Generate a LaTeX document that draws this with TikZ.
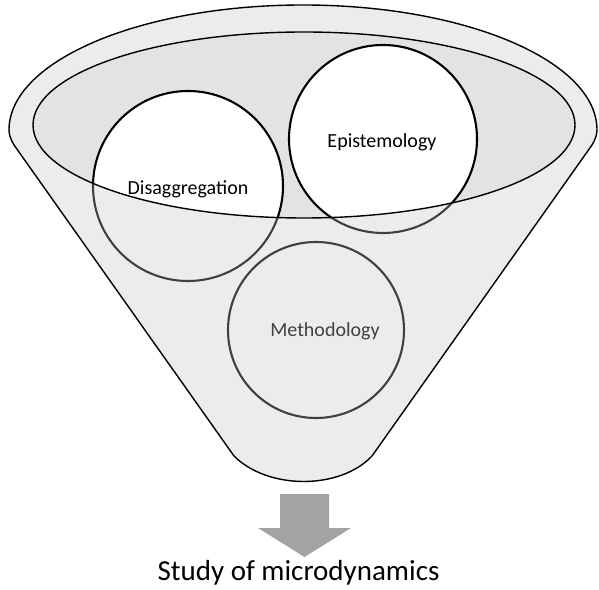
\documentclass[tikz,border=0pt]{standalone}
\usepackage{fontspec}
\setmainfont{Carlito}

\definecolor{rimgray}{HTML}{ECECEC}
\definecolor{bowlgray}{HTML}{E3E3E3}
\definecolor{arrowgray}{HTML}{A3A3A3}
\definecolor{ringgray}{HTML}{404040}
\definecolor{inkgray}{HTML}{404040}

\begin{document}
\begin{tikzpicture}
[x=1pt, y=1pt, every node/.style={inner sep=0pt},
 outline/.style={line width=1.4pt, draw=black},
 ring/.style={line width=2.1pt},
 label/.style={font=\fontsize{20}{24}\selectfont}]
\useasboundingbox (0,0) rectangle (599,589);
\coordinate (dis) at (188,403);
\coordinate (epi) at (383,450);
\coordinate (met) at (316,259);
\coordinate (bowl) at (304,464);
% funnel
\draw [outline, fill=rimgray] (14,444) .. controls (11,449) and (9,454) .. (9,459)
  arc [start angle=180, end angle=0, x radius=294pt, y radius=125pt]
  .. controls (597,454) and (595,449) .. (592,444) -- (372,133)
  .. controls (340,99) and (268,99) .. (234,133) -- cycle;
% circles, lower parts
\draw [ring, draw=ringgray, fill=rimgray] (dis) circle [radius=95pt];
\draw [ring, draw=ringgray, fill=rimgray] (epi) circle [radius=94pt];
\draw [ring, draw=ringgray] (met) circle [radius=88pt];
% bowl
\fill [bowlgray] (bowl) ellipse [x radius=271pt, y radius=93pt];
\begin{scope}
\clip (bowl) ellipse [x radius=271pt, y radius=93pt];
\draw [ring, draw=black, fill=white] (dis) circle [radius=95pt];
\draw [ring, draw=black, fill=white] (epi) circle [radius=94pt];
\end{scope}
\draw [outline] (bowl) ellipse [x radius=271pt, y radius=93pt];
% labels
\node (disagg) [label] at (188,400) {Disaggregation};
\node (episte) [label] at (382,447) {Epistemology};
\node (method) [label, text=inkgray] at (325,258) {Methodology};
% arrow
\fill [arrowgray] (280,95) -- (329,95) -- (329,61) -- (351,61) -- (304.5,32) -- (258,61) -- (280,61) -- cycle;
\node (study) [font=\fontsize{29}{34}\selectfont] at (298.5,16) {Study of microdynamics};
\end{tikzpicture}
\end{document}
